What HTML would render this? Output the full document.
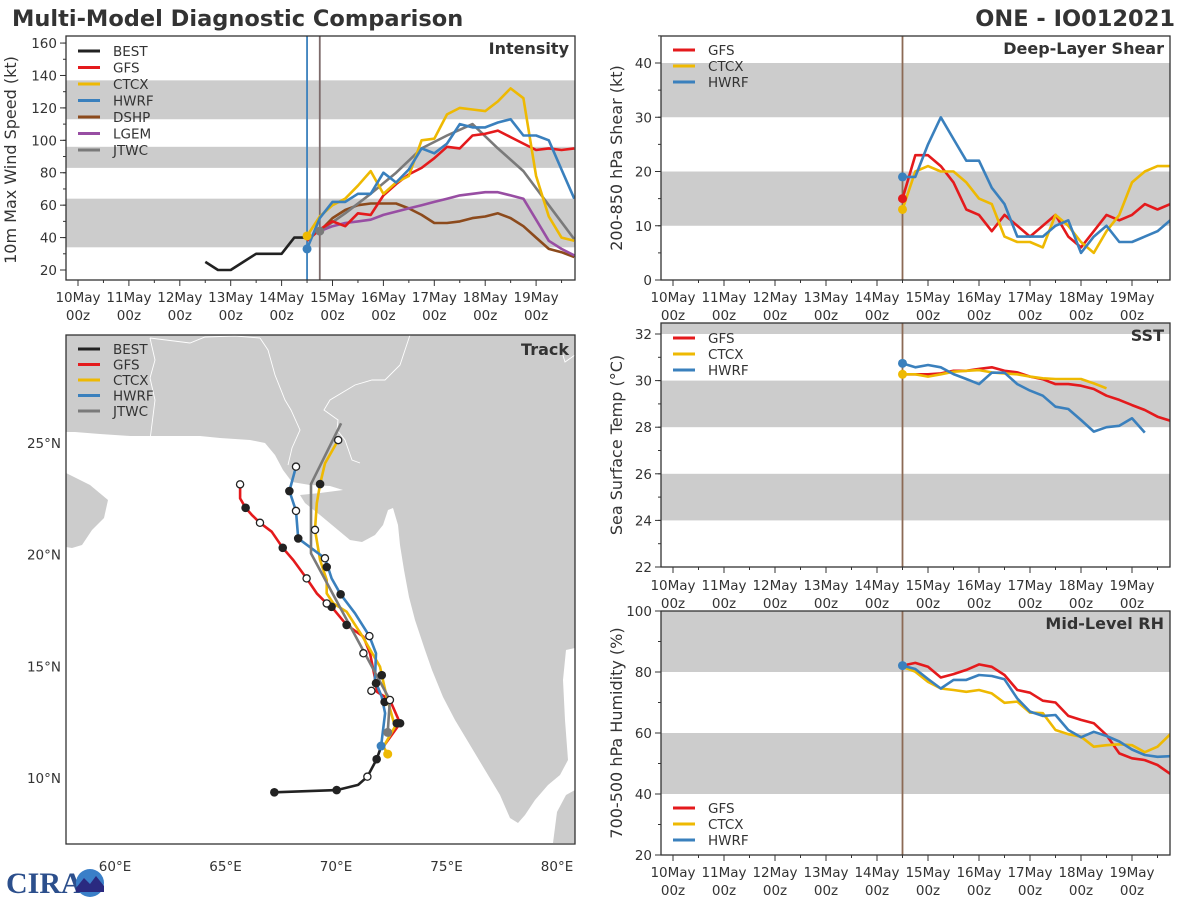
<!DOCTYPE html>
<html><head><meta charset="utf-8">
<style>
html,body{margin:0;padding:0;background:#fff;}
svg{display:block;font-family:"DejaVu Sans","Liberation Sans",sans-serif;}
</style></head>
<body>
<svg id="chart" width="1200" height="900" viewBox="0 0 1200 900" xmlns="http://www.w3.org/2000/svg">
<rect x="0" y="0" width="1200" height="900" fill="#fff"/>
<text x="12" y="26" font-size="22.5" font-weight="bold" fill="#333">Multi-Model Diagnostic Comparison</text>
<text x="1175" y="26" font-size="22.5" font-weight="bold" fill="#333" text-anchor="end">ONE - IO012021</text>

<g id="map">
<clipPath id="mapclip"><rect x="66" y="335" width="509" height="509"/></clipPath>
<g clip-path="url(#mapclip)">
<path fill="#cccccc" d="M66,335 L575,335 L575,648 L566,650 L563,680 L565,720 L568,760 L560,775 L548,785 L535,800 L525,815 L518,823 L510,818 L500,795 L485,770 L470,745 L455,720 L443,697 L432,670 L425,650 L415,620 L409,597 L404,570 L400,545 L398,525 L393,508 L388,510 L383,525 L375,535 L362,542 L350,540 L338,530 L320,515 L305,503 L300,495 L320,493 L343,490 L330,486 L310,485 L292,482 L283,470 L275,455 L265,443 L250,440 L220,438 L200,436 L170,436 L130,436 L100,434 L75,432 L66,432 Z"/>
<path fill="#cccccc" d="M66,473 L90,485 L108,500 L104,518 L92,530 L82,545 L72,548 L66,547 Z"/>
<path fill="#cccccc" d="M553,843 L575,843 L575,790 L566,795 L557,812 Z"/>
<g fill="none" stroke="#fff" stroke-width="0.9">
<path d="M150,338 L190,343 L205,337 L235,336 L260,338"/>
<path d="M150,338 L155,360 L150,378 L155,400 L150,440"/>
<path d="M260,338 L268,350 L275,375 L285,400 L291,410 L300,430 L292,448 L288,465"/>
<path d="M410,335 L400,365 L385,380 L372,380 L355,385 L330,400 L324,410 L338,420 L337,430 L345,440 L352,460 L360,463"/>
<path d="M575,355 L565,362 L560,345"/>
</g>
</g>
</g>
<g id="dyn"></g>
<g>
<text x="6" y="893" font-size="30" font-weight="bold" fill="#2c4f8c" font-family="Liberation Serif, serif">CIRA</text>
<circle cx="90" cy="883" r="14" fill="#3a7fc8"/>
<path d="M76,888 L84,878 L90,884 L96,876 L104,886 L104,892 L76,892 Z" fill="#2a2a80"/>
</g>
</svg>
<script>
// ---------- DATA ----------
const dayLabels = ["10May","11May","12May","13May","14May","15May","16May","17May","18May","19May"];
const bestT0 = 2.5;
const bestInt = [25,20,20,25,30,30,30,40,40];
const modelT0 = 4.5;
const gfsInt = [38,45,50,47,55,54,66,73,79,83,89,96,95,103,104,106,102,98,94,95,94,95];
const ctcxInt = [41,53,60,64,72,81,67,74,78,100,101,116,120,119,118,124,132,126,78,53,40,38];
const hwrfInt = [33,52,62,62,67,67,80,74,82,95,92,98,110,108,108,111,113,103,103,100,82,64];
const statT0 = 4.75;
const dshpInt = [44,52,57,60,61,61,61,58,54,49,49,50,52,53,55,52,47,40,33,31,28];
const lgemInt = [44,47,49,50,51,54,56,58,60,62,64,66,67,68,68,66,64,51,38,33,29];
const jtwcInt = [44,55,67,80,95,103,110,95,81,60,39];
const intYTicks = [20,40,60,80,100,120,140,160];

const gfsShear = [15,23,23,21,18,13,12,9,12,10,8,10,12,8,6,9,12,11,12,14,13,14];
const ctcxShear = [13,20,21,20,20,18,15,14,8,7,7,6,12,10,7,5,9,12,18,20,21,21];
const hwrfShear = [19,19,25,30,26,22,22,17,14,8,8,8,10,11,5,8,10,7,7,8,9,11];
const shearTicks = [0,10,20,30,40];

const gfsSst = [30.27,30.27,30.27,30.31,30.42,30.42,30.5,30.57,30.42,30.35,30.17,30.06,29.85,29.85,29.78,29.64,29.35,29.17,28.95,28.74,28.45,28.28];
const ctcxSst = [30.27,30.27,30.17,30.27,30.38,30.42,30.45,30.35,30.31,30.27,30.17,30.1,30.07,30.07,30.07,29.88,29.67];
const hwrfSst = [30.74,30.57,30.67,30.57,30.28,30.07,29.85,30.34,30.34,29.85,29.57,29.35,28.88,28.78,28.31,27.81,28.0,28.06,28.38,27.77];
const sstTicks = [22,24,26,28,30,32];

const gfsRh = [82.1,83,81.7,78.2,79.3,80.7,82.5,81.7,79,74.1,73.2,70.6,70,65.6,64.3,63.2,59.3,53.3,51.7,51.1,49.5,46.6];
const ctcxRh = [81.7,80.1,76.8,74.6,74.1,73.5,74.1,73,69.9,70.3,66.7,66.5,61,59.6,58.8,55.5,56,56.3,56,53.7,55.5,59.6];
const hwrfRh = [82.1,81,77.7,74.6,77.4,77.4,79,78.7,77.6,71.3,67,65.6,65.9,61,58.6,60.4,59,57.2,54.6,52.8,52.2,52.4];
const rhTicks = [20,40,60,80,100];

const bestLon = [67.21,70.03,71.0,71.42,71.84,72.07];
const bestLat = [9.36,9.46,9.69,10.06,10.84,11.48];
const gfsLon = [72.07,72.9,72.44,71.84,71.81,71.54,71.24,70.48,69.8,69.5,69.13,68.67,68.07,67.59,67.09,66.56,66.19,65.91,65.66,65.66];
const gfsLat = [11.3,12.45,13.49,13.86,14.24,15.58,16.32,16.85,17.66,17.89,18.26,18.93,19.75,20.3,21.02,21.42,21.77,22.09,22.51,23.14];
const ctcxLon = [72.34,72.15,72.67,72.3,71.99,71.16,70.48,69.88,69.58,69.58,69.28,69.05,69.13,69.28,69.5,70.1];
const ctcxLat = [11.07,11.4,12.3,13.6,14.98,16.4,17.44,17.81,18.26,18.86,19.75,21.1,22.29,23.15,24.08,25.12];
const hwrfLon = [72.04,72.22,72.07,71.76,71.81,71.51,70.86,70.21,69.8,69.58,69.5,68.29,68.19,67.89,68.19];
const hwrfLat = [11.43,12.9,13.64,14.38,15.58,16.35,17.37,18.22,18.93,19.6,19.83,20.72,21.95,22.84,23.93];
const jtwcLon = [72.34,72.44,68.87,68.87,70.23];
const jtwcLat = [12.04,13.49,20.05,23.15,25.87];
const filledLon = [67.21,70.03,71.84,72.9,72.75,71.81,70.48,69.8,67.59,65.91,68.29,67.89,69.58,70.21,69.28,72.2,72.07];
const filledLat = [9.36,9.46,10.84,12.45,12.45,14.24,16.85,17.66,20.3,22.09,20.72,22.84,19.44,18.22,23.15,13.4,14.6];
const openLon = [71.42,71.24,68.67,66.56,65.66,68.19,68.19,69.5,71.51,71.6,72.44,69.05,69.58,70.1];
const openLat = [10.06,15.58,18.93,21.42,23.14,21.95,23.93,19.83,16.35,13.9,13.49,21.1,17.81,25.12];
const lonTicks = [60,65,70,75,80];
const latTicks = [10,15,20,25];

// ---------- HELPERS ----------
const NS = 'http://www.w3.org/2000/svg';
const root = document.getElementById('dyn');
function mk(tag, attrs, parent) {
  const e = document.createElementNS(NS, tag);
  for (const k in attrs) e.setAttribute(k, attrs[k]);
  (parent || root).appendChild(e);
  return e;
}
const C = {best:'#222222', gfs:'#e41a1c', ctcx:'#eeb902', hwrf:'#3a80bd', dshp:'#8c4a1c', lgem:'#984ea3', jtwc:'#7a7a7a'};
const LINE = '#333';

const ix = t => 78 + t * 50.9;
const iy = v => 270 - (v - 20) * 1.621;
const rx = t => 673 + t * 51.0;
const sy = v => 280 - v * 5.425;
const ty = v => 567 - (v - 22) * 23.3;
const hy = v => 855 - (v - 20) * 3.05;
const mx = lon => 115 + (lon - 60) * 22.1;
const my = lat => 778 - (lat - 10) * 22.35;

function series(vals, t0, step, xf, yf, color, name, clip) {
  const pts = vals.map((v, i) => xf(t0 + i * step).toFixed(1) + ',' + yf(v).toFixed(1)).join(' ');
  const el = mk('polyline', {points: pts, fill: 'none', stroke: color, 'stroke-width': 2.6, 'stroke-linejoin': 'round', 'clip-path': 'url(#' + clip + ')'});
  
  
  return el;
}
function dot(x, y, color, name) {
  const el = mk('circle', {cx: x, cy: y, r: 4.5, fill: color});
  
  
}
function clip(id, x, y, w, h) {
  const c = mk('clipPath', {id: id});
  mk('rect', {x: x, y: y, width: w, height: h}, c);
}
function bands(x0, x1, ranges, yf, name, clipId) {
  ranges.forEach(r => {
    const el = mk('rect', {x: x0, y: yf(r[1]), width: x1 - x0, height: yf(r[0]) - yf(r[1]), fill: '#cccccc', 'clip-path': 'url(#' + clipId + ')'});
    
    
  });
}
function frame(x0, y0, x1, y1, name) {
  const el = mk('rect', {x: x0, y: y0, width: x1 - x0, height: y1 - y0, fill: 'none', stroke: LINE, 'stroke-width': 1.3});
  
  
}
function timeAxis(xf, ybot, y1, y2, name) {
  for (let h = 0; h <= 19; h++) {
    const t = h / 2;
    const major = h % 2 === 0;
    mk('line', {x1: xf(t), x2: xf(t), y1: ybot, y2: ybot + (major ? 6 : 3), stroke: LINE, 'stroke-width': 1});
  }
  dayLabels.forEach((d, i) => {
    const a = mk('text', {x: xf(i), y: y1, 'font-size': 13.5, fill: '#333', 'text-anchor': 'middle'});
    a.textContent = d;
    
    
    const b = mk('text', {x: xf(i), y: y2, 'font-size': 13.5, fill: '#333', 'text-anchor': 'middle'});
    b.textContent = '00z';
    
    
  });
}
function valueAxis(ticks, minorStep, yf, xleft, ytop, ybot, name) {
  const lo = ticks[0] - 20, hi = ticks[ticks.length - 1] + 20;
  for (let v = lo; v <= hi; v += minorStep) {
    const y = yf(v);
    if (y < ytop - 0.5 || y > ybot + 0.5) continue;
    mk('line', {x1: xleft - 3, x2: xleft, y1: y, y2: y, stroke: LINE, 'stroke-width': 1});
  }
  ticks.forEach(v => {
    const y = yf(v);
    mk('line', {x1: xleft - 6, x2: xleft, y1: y, y2: y, stroke: LINE, 'stroke-width': 1});
    const t = mk('text', {x: xleft - 9, y: y + 5, 'font-size': 13.5, fill: '#333', 'text-anchor': 'end'});
    t.textContent = String(v);
    
    
  });
}
function yTitle(text, x, cy, name) {
  const t = mk('text', {x: 0, y: 0, 'font-size': 16, fill: '#333', 'text-anchor': 'middle', transform: 'translate(' + x + ',' + cy + ') rotate(-90)'});
  t.textContent = text;
  
  
}
function panelTitle(text, x, y, name) {
  const t = mk('text', {x: x, y: y, 'font-size': 16, 'font-weight': 'bold', fill: '#333', 'text-anchor': 'end'});
  t.textContent = text;
  
  
}
function legend(entries, x, y0, dy, name) {
  entries.forEach((e, i) => {
    const y = y0 + i * dy;
    const l = mk('line', {x1: x, x2: x + 22, y1: y, y2: y, stroke: e[1], 'stroke-width': 3});
    
    
    const t = mk('text', {x: x + 35, y: y + 5, 'font-size': 13.5, fill: '#333'});
    t.textContent = e[0];
    
    
  });
}
function vline(x, y0, y1, color, name) {
  const el = mk('line', {x1: x, x2: x, y1: y0, y2: y1, stroke: color, 'stroke-width': 1.8});
  
  
}

// ---------- INTENSITY ----------
clip('cI', 66, 36, 509, 244);
bands(66, 575, [[34, 64], [83, 96], [113, 137]], iy, 'intensity-category-band', 'cI');
vline(ix(4.5), 36, 280, '#3a80bd', 'intensity-init-line-hwrf');
vline(ix(4.75), 36, 280, '#7d6b6b', 'intensity-init-line');
series(bestInt, bestT0, 0.25, ix, iy, C.best, 'intensity-best-line', 'cI');
series(dshpInt, statT0, 0.25, ix, iy, C.dshp, 'intensity-dshp-line', 'cI');
series(lgemInt, statT0, 0.25, ix, iy, C.lgem, 'intensity-lgem-line', 'cI');
series(jtwcInt, statT0, 0.5, ix, iy, C.jtwc, 'intensity-jtwc-line', 'cI');
series(gfsInt, modelT0, 0.25, ix, iy, C.gfs, 'intensity-gfs-line', 'cI');
series(ctcxInt, modelT0, 0.25, ix, iy, C.ctcx, 'intensity-ctcx-line', 'cI');
series(hwrfInt, modelT0, 0.25, ix, iy, C.hwrf, 'intensity-hwrf-line', 'cI');
dot(ix(modelT0), iy(ctcxInt[0]), C.ctcx, 'intensity-ctcx-start');
dot(ix(modelT0), iy(hwrfInt[0]), C.hwrf, 'intensity-hwrf-start');
dot(ix(statT0), iy(jtwcInt[0]), C.jtwc, 'intensity-jtwc-start');
frame(66, 36, 575, 280, 'intensity-frame');
timeAxis(ix, 280, 302, 320, 'intensity-x');
valueAxis(intYTicks, 10, iy, 66, 36, 280, 'intensity-y');
yTitle('10m Max Wind Speed (kt)', 16, 160, 'intensity-y-title');
panelTitle('Intensity', 569, 54, 'intensity-title');
legend([['BEST', C.best], ['GFS', C.gfs], ['CTCX', C.ctcx], ['HWRF', C.hwrf], ['DSHP', C.dshp], ['LGEM', C.lgem], ['JTWC', C.jtwc]], 78, 51, 16.5, 'intensity-legend');

// ---------- SHEAR ----------
clip('cS', 661, 36, 509, 244);
bands(661, 1170, [[10, 20], [30, 40]], sy, 'shear-band', 'cS');
vline(rx(4.5), 36, 280, '#8c6a55', 'shear-init-line');
series(gfsShear, modelT0, 0.25, rx, sy, C.gfs, 'shear-gfs-line', 'cS');
series(ctcxShear, modelT0, 0.25, rx, sy, C.ctcx, 'shear-ctcx-line', 'cS');
series(hwrfShear, modelT0, 0.25, rx, sy, C.hwrf, 'shear-hwrf-line', 'cS');
dot(rx(modelT0), sy(gfsShear[0]), C.gfs, 'shear-gfs-start');
dot(rx(modelT0), sy(hwrfShear[0]), C.hwrf, 'shear-hwrf-start');
dot(rx(modelT0), sy(ctcxShear[0]), C.ctcx, 'shear-ctcx-start');
frame(661, 36, 1170, 280, 'shear-frame');
timeAxis(rx, 280, 302, 320, 'shear-x');
valueAxis(shearTicks, 5, sy, 661, 36, 280, 'shear-y');
yTitle('200-850 hPa Shear (kt)', 622, 158, 'shear-y-title');
panelTitle('Deep-Layer Shear', 1164, 54, 'shear-title');
legend([['GFS', C.gfs], ['CTCX', C.ctcx], ['HWRF', C.hwrf]], 673, 50, 16, 'shear-legend');

// ---------- SST ----------
clip('cT', 661, 323, 509, 244);
bands(661, 1170, [[24, 26], [28, 30], [32, 33]], ty, 'sst-band', 'cT');
vline(rx(4.5), 323, 567, '#8c6a55', 'sst-init-line');
series(gfsSst, modelT0, 0.25, rx, ty, C.gfs, 'sst-gfs-line', 'cT');
series(ctcxSst, modelT0, 0.25, rx, ty, C.ctcx, 'sst-ctcx-line', 'cT');
series(hwrfSst, modelT0, 0.25, rx, ty, C.hwrf, 'sst-hwrf-line', 'cT');
dot(rx(modelT0), ty(hwrfSst[0]), C.hwrf, 'sst-hwrf-start');
dot(rx(modelT0), ty(ctcxSst[0]), C.ctcx, 'sst-ctcx-start');
frame(661, 323, 1170, 567, 'sst-frame');
timeAxis(rx, 567, 590, 608, 'sst-x');
valueAxis(sstTicks, 1, ty, 661, 323, 567, 'sst-y');
yTitle('Sea Surface Temp (°C)', 622, 445, 'sst-y-title');
panelTitle('SST', 1164, 341, 'sst-title');
legend([['GFS', C.gfs], ['CTCX', C.ctcx], ['HWRF', C.hwrf]], 673, 338, 16, 'sst-legend');

// ---------- RH ----------
clip('cH', 661, 611, 509, 244);
bands(661, 1170, [[40, 60], [80, 100]], hy, 'rh-band', 'cH');
vline(rx(4.5), 611, 855, '#8c6a55', 'rh-init-line');
series(gfsRh, modelT0, 0.25, rx, hy, C.gfs, 'rh-gfs-line', 'cH');
series(ctcxRh, modelT0, 0.25, rx, hy, C.ctcx, 'rh-ctcx-line', 'cH');
series(hwrfRh, modelT0, 0.25, rx, hy, C.hwrf, 'rh-hwrf-line', 'cH');
dot(rx(modelT0), hy(hwrfRh[0]), C.hwrf, 'rh-hwrf-start');
frame(661, 611, 1170, 855, 'rh-frame');
timeAxis(rx, 855, 877, 895, 'rh-x');
valueAxis(rhTicks, 10, hy, 661, 611, 855, 'rh-y');
yTitle('700-500 hPa Humidity (%)', 622, 733, 'rh-y-title');
panelTitle('Mid-Level RH', 1164, 629, 'rh-title');
legend([['GFS', C.gfs], ['CTCX', C.ctcx], ['HWRF', C.hwrf]], 673, 808, 16, 'rh-legend');

// ---------- TRACK ----------
function track(lons, lats, color, name) {
  const pts = lons.map((l, i) => mx(l).toFixed(1) + ',' + my(lats[i]).toFixed(1)).join(' ');
  const el = mk('polyline', {points: pts, fill: 'none', stroke: color, 'stroke-width': 2.6, 'stroke-linejoin': 'round', 'clip-path': 'url(#mapclip)'});
  
  
}
track(bestLon, bestLat, C.best, 'track-best-line');
track(gfsLon, gfsLat, C.gfs, 'track-gfs-line');
track(ctcxLon, ctcxLat, C.ctcx, 'track-ctcx-line');
track(hwrfLon, hwrfLat, C.hwrf, 'track-hwrf-line');
track(jtwcLon, jtwcLat, C.jtwc, 'track-jtwc-line');
dot(mx(ctcxLon[0]), my(ctcxLat[0]), C.ctcx, 'track-ctcx-start');
dot(mx(hwrfLon[0]), my(hwrfLat[0]), C.hwrf, 'track-hwrf-start');
dot(mx(jtwcLon[0]), my(jtwcLat[0]), C.jtwc, 'track-jtwc-start');
filledLon.forEach((l, i) => {
  const el = mk('circle', {cx: mx(l), cy: my(filledLat[i]), r: 4.3, fill: '#222'});
  
  
});
openLon.forEach((l, i) => {
  const el = mk('circle', {cx: mx(l), cy: my(openLat[i]), r: 3.6, fill: '#fff', stroke: '#222', 'stroke-width': 1.3});
  
  
});
frame(66, 335, 575, 844, 'track-frame');
lonTicks.forEach(l => {
  const t = mk('text', {x: mx(l), y: 871, 'font-size': 13.5, fill: '#333', 'text-anchor': 'middle'});
  t.textContent = l + '°E';
  
  
});
latTicks.forEach(l => {
  const t = mk('text', {x: 61, y: my(l) + 5, 'font-size': 13.5, fill: '#333', 'text-anchor': 'end'});
  t.textContent = l + '°N';
  
  
});
panelTitle('Track', 569, 355, 'track-title');
legend([['BEST', C.best], ['GFS', C.gfs], ['CTCX', C.ctcx], ['HWRF', C.hwrf], ['JTWC', C.jtwc]], 78, 349, 15.5, 'track-legend');
</script>
</body></html>
